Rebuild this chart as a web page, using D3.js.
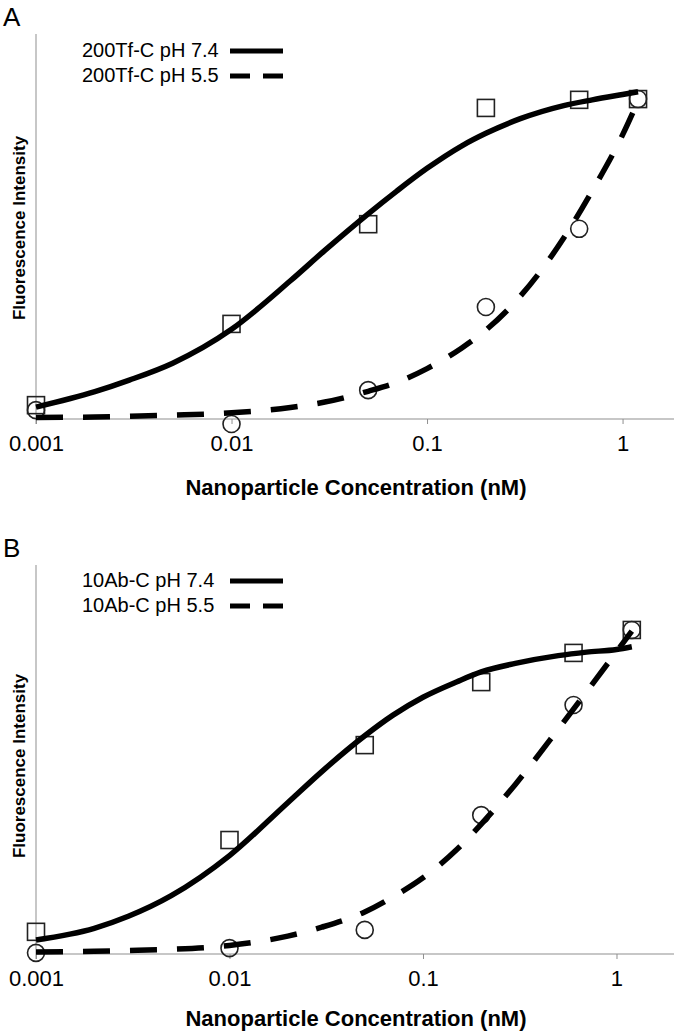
<!DOCTYPE html>
<html>
<head>
<meta charset="utf-8">
<script src="https://cdn.jsdelivr.net/npm/d3@7"></script>
<style>
  body { margin: 0; background: #fff; }
  svg { display: block; font-family: "Liberation Sans", Arial, Helvetica, sans-serif; }
</style>
</head>
<body>
<svg id="chart" width="677" height="1033"></svg>
<script>
// x positions of the fitted curves and of the measured points (nM)
const curveX = [0.001, 0.002, 0.003, 0.005, 0.01, 0.02, 0.03, 0.05, 0.07, 0.1, 0.15, 0.2, 0.3, 0.5, 0.7, 1.0, 1.2];
const pointX = [0.001, 0.01, 0.05, 0.2, 0.6, 1.2];
const xTicks = [0.001, 0.01, 0.1, 1];
const xTickLabels = ["0.001", "0.01", "0.1", "1"];

// panel A : 200Tf-C
const tfFit74 = [3.1, 7.1, 10.1, 14.5, 23.3, 35.9, 43.8, 53.3, 59.2, 65.1, 70.9, 74.2, 78.0, 81.4, 82.9, 84.3, 85.0];
const tfFit55 = [0.4, 0.5, 0.7, 1.0, 1.6, 3.0, 4.4, 7.2, 9.5, 13.1, 18.4, 23.1, 31.9, 47.0, 59.3, 73.8, 82.6];
const tfPts74 = [3.6, 24.7, 50.6, 80.8, 82.9, 83.1];
const tfPts55 = [2.3, -1.3, 7.5, 29.1, 49.4, 83.1];

// panel B : 10Ab-C
const abFit74 = [3.6, 6.6, 9.7, 15.0, 25.3, 38.9, 46.9, 56.1, 61.4, 66.0, 70.0, 72.5, 74.7, 76.7, 77.6, 78.3, 79.0];
const abFit55 = [0.5, 0.7, 0.9, 1.2, 2.2, 4.6, 6.9, 10.8, 14.7, 19.6, 26.9, 33.4, 43.6, 57.8, 67.4, 77.7, 83.0];
const abPts74 = [5.7, 29.3, 53.7, 69.9, 77.4, 83.3];
const abPts55 = [0.3, 1.5, 6.2, 35.7, 64.0, 83.3];

const svg = d3.select("#chart");
const axisColor = "#8f8f8f";

function drawPanel(p) {
  const xScale = d3.scaleLog().domain([0.001, p.xMax]).range([p.left, p.right]);
  const yScale = d3.scaleLinear().domain([0, 100]).range([p.bottom, p.top]);

  const g = svg.append("g");

  // panel letter
  g.append("text")
   .attr("x", 3)
   .attr("y", p.top - 8)
   .style("font-size", "26px")
   .text(p.letter);

  // y axis (just a line)
  g.append("line")
   .attr("x1", p.left).attr("x2", p.left)
   .attr("y1", p.top).attr("y2", p.bottom + 5)
   .style("stroke", axisColor)
   .style("stroke-width", 1);

  // x axis
  const xAxis = g.append("g")
   .attr("transform", "translate(0," + p.bottom + ")")
   .call(d3.axisBottom(xScale)
     .tickValues(xTicks)
     .tickFormat((d, i) => xTickLabels[i])
     .tickSize(5)
     .tickSizeOuter(0));
  xAxis.select(".domain").style("stroke", axisColor).attr("d", "M" + p.left + ",0H" + (p.right + 2));
  xAxis.selectAll(".tick line").style("stroke", axisColor);
  xAxis.selectAll(".tick text")
   .attr("y", 32)
   .attr("dy", 0)
   .style("font-size", "22px")
   .style("fill", "#000");

  // axis titles
  g.append("text")
   .attr("x", (p.left + p.right) / 2 + 2)
   .attr("y", p.bottom + p.xTitleOffset)
   .style("text-anchor", "middle")
   .style("font-size", "22px")
   .style("font-weight", "bold")
   .text("Nanoparticle Concentration (nM)");

  g.append("text")
   .attr("transform", "rotate(-90)")
   .attr("x", -p.yTitleMid)
   .attr("y", 25)
   .style("text-anchor", "middle")
   .style("font-size", "17px")
   .style("font-weight", "bold")
   .text("Fluorescence Intensity");

  // measured points
  g.selectAll(".sq")
   .data(pointX.map((x, i) => ({ x: x, y: p.pts74[i] })))
   .enter()
   .append("rect")
   .attr("x", d => xScale(d.x) - 8.5)
   .attr("y", d => yScale(d.y) - 8.5)
   .attr("width", 17)
   .attr("height", 17)
   .style("fill", "none")
   .style("stroke", "#222")
   .style("stroke-width", 1.6);

  g.selectAll(".ci")
   .data(pointX.map((x, i) => ({ x: x, y: p.pts55[i] })))
   .enter()
   .append("circle")
   .attr("cx", d => xScale(d.x))
   .attr("cy", d => yScale(d.y))
   .attr("r", 8.5)
   .style("fill", "none")
   .style("stroke", "#222")
   .style("stroke-width", 1.6);

  // fitted curves
  const line = d3.line()
    .x(d => xScale(d.x))
    .y(d => yScale(d.y))
    .curve(d3.curveMonotoneX);

  g.append("path")
   .datum(curveX.map((x, i) => ({ x: x, y: p.fit74[i] })))
   .style("fill", "none")
   .style("stroke", "#000")
   .style("stroke-width", 5.5)
   .attr("d", line);

  g.append("path")
   .datum(curveX.map((x, i) => ({ x: x, y: p.fit55[i] })))
   .style("fill", "none")
   .style("stroke", "#000")
   .style("stroke-width", 5.5)
   .style("stroke-dasharray", "27,20")
   .attr("d", line);

  // legend
  const legendData = [
    { label: p.name + " pH 7.4", dash: null },
    { label: p.name + " pH 5.5", dash: "20,13" }
  ];
  const legendItems = g.selectAll(".legend")
   .data(legendData)
   .enter()
   .append("g")
   .attr("transform", (d, i) => "translate(0," + (p.legendY + i * 25) + ")");

  legendItems.append("text")
   .attr("x", 82)
   .attr("y", 0)
   .style("font-size", "20px")
   .text(d => d.label);

  legendItems.append("line")
   .attr("x1", 230).attr("x2", 283)
   .attr("y1", -6).attr("y2", -6)
   .style("stroke", "#000")
   .style("stroke-width", 5)
   .style("stroke-dasharray", d => d.dash);
}

drawPanel({
  letter: "A", name: "200Tf-C",
  left: 36, right: 672, top: 34, bottom: 419, xMax: 1.79,
  yTitleMid: 228, legendY: 57, xTitleOffset: 76,
  fit74: tfFit74, fit55: tfFit55, pts74: tfPts74, pts55: tfPts55
});

drawPanel({
  letter: "B", name: "10Ab-C",
  left: 36, right: 672, top: 565, bottom: 954, xMax: 1.936,
  yTitleMid: 766, legendY: 587, xTitleOffset: 72,
  fit74: abFit74, fit55: abFit55, pts74: abPts74, pts55: abPts55
});
</script>
</body>
</html>
